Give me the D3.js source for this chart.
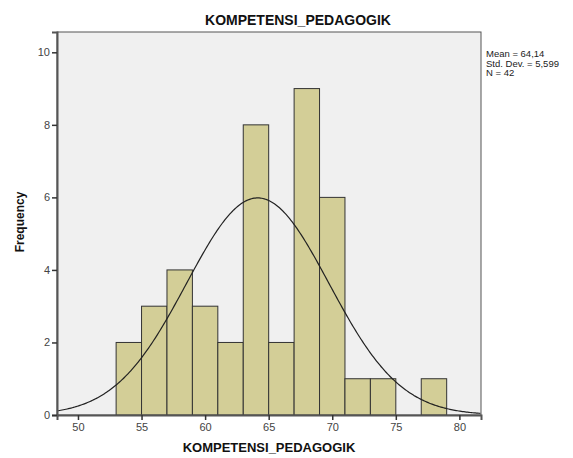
<!DOCTYPE html>
<html>
<head>
<meta charset="utf-8">
<script src="https://cdn.jsdelivr.net/npm/d3@7"></script>
<style>
  body { margin: 0; background: #fff; }
  svg { display: block; font-family: "Liberation Sans", Arial, sans-serif; }
</style>
</head>
<body>
<svg id="chart" width="573" height="458"></svg>
<script>
// histogram bins (lower edge, width 2) and their counts
const binStarts = [53, 55, 57, 59, 61, 63, 65, 67, 69, 71, 73, 75, 77];
const binWidth = 2;
const counts = [2, 3, 4, 3, 2, 8, 2, 9, 6, 1, 1, 0, 1];
const xTicks = [50, 55, 60, 65, 70, 75, 80];
const yTicks = [0, 2, 4, 6, 8, 10];
const stats = { mean: 64.14, sd: 5.599, n: 42 };
const statLines = ["Mean = 64,14", "Std. Dev. = 5,599", "N = 42"];

const svg = d3.select("#chart");
const plot = { left: 57, top: 32, right: 481, bottom: 415 };

const x = d3.scaleLinear().domain([48.35, 81.7]).range([plot.left, plot.right]);
const y = d3.scaleLinear().domain([0, 10.56]).range([plot.bottom, plot.top]);

// plot background
svg.append("rect")
  .attr("x", plot.left).attr("y", plot.top)
  .attr("width", plot.right - plot.left).attr("height", plot.bottom - plot.top)
  .attr("fill", "#f0f0f0").attr("stroke", "#555").attr("stroke-width", 1);

// bars
svg.append("g").selectAll("rect")
  .data(binStarts.map((s, i) => ({ s, c: counts[i] })).filter(d => d.c > 0))
  .join("rect")
  .attr("x", d => x(d.s))
  .attr("y", d => y(d.c))
  .attr("width", d => x(d.s + binWidth) - x(d.s))
  .attr("height", d => y(0) - y(d.c))
  .attr("fill", "#d3ce97")
  .attr("stroke", "#333")
  .attr("stroke-width", 1);

// normal curve from the shown mean / sd, scaled to counts
const scale = stats.n * binWidth / (stats.sd * Math.sqrt(2 * Math.PI));
const curvePts = d3.range(x.domain()[0], x.domain()[1] + 0.01, 0.1).map(v =>
  [v, scale * Math.exp(-0.5 * Math.pow((v - stats.mean) / stats.sd, 2))]);
svg.append("path")
  .attr("d", d3.line().x(d => x(d[0])).y(d => y(d[1]))(curvePts))
  .attr("fill", "none").attr("stroke", "#222").attr("stroke-width", 1.2);

// axes
const xAxis = svg.append("g")
  .attr("transform", `translate(0,${plot.bottom})`)
  .call(d3.axisBottom(x).tickValues(xTicks).tickSize(5).tickPadding(3));
const yAxis = svg.append("g")
  .attr("transform", `translate(${plot.left},0)`)
  .call(d3.axisLeft(y).tickValues(yTicks).tickSize(5).tickPadding(2));
[xAxis, yAxis].forEach(a => {
  a.select(".domain").attr("stroke", "#555").attr("stroke-width", 2);
  a.selectAll(".tick line").attr("stroke", "#333").attr("stroke-width", 1.5);
  a.selectAll(".tick text").attr("fill", "#444")
    .style("font-family", "'Liberation Sans', Arial, sans-serif").style("font-size", "11px");
});

// title & axis labels
svg.append("text").attr("x", 298).attr("y", 25).attr("text-anchor", "middle")
  .style("font-weight", "bold").style("font-size", "14px").attr("fill", "#111")
  .text("KOMPETENSI_PEDAGOGIK");
svg.append("text").attr("x", 269).attr("y", 452).attr("text-anchor", "middle")
  .style("font-weight", "bold").style("font-size", "13px").attr("fill", "#111")
  .text("KOMPETENSI_PEDAGOGIK");
svg.append("text").attr("transform", "translate(24,222) rotate(-90)")
  .attr("text-anchor", "middle")
  .style("font-weight", "bold").style("font-size", "12px").attr("fill", "#111")
  .text("Frequency");

// stats box text
svg.append("g").selectAll("text")
  .data(statLines).join("text")
  .attr("x", 486).attr("y", (d, i) => 57 + i * 9.5)
  .style("font-size", "9.5px").attr("fill", "#222")
  .text(d => d);
</script>
</body>
</html>
